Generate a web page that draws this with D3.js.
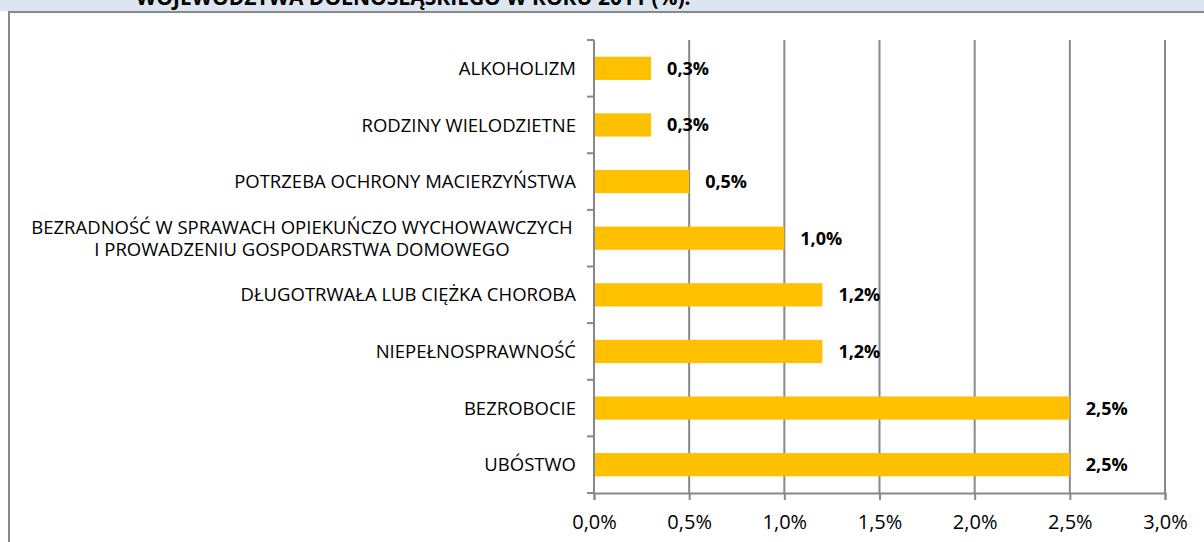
<!DOCTYPE html>
<html>
<head>
<meta charset="utf-8">
<script src="https://cdn.jsdelivr.net/npm/d3@7"></script>
<style>
  body { margin: 0; background: #fff; }
  svg { display: block; font-family: "Open Sans", sans-serif; }
</style>
</head>
<body>
<svg id="chart" width="1204" height="542"></svg>
<script>
const categories = [
  ['ALKOHOLIZM'],
  ['RODZINY WIELODZIETNE'],
  ['POTRZEBA OCHRONY MACIERZYŃSTWA'],
  ['BEZRADNOŚĆ W SPRAWACH OPIEKUŃCZO WYCHOWAWCZYCH', 'I PROWADZENIU GOSPODARSTWA DOMOWEGO'],
  ['DŁUGOTRWAŁA LUB CIĘŻKA CHOROBA'],
  ['NIEPEŁNOSPRAWNOŚĆ'],
  ['BEZROBOCIE'],
  ['UBÓSTWO']
]
const values = [0.3, 0.3, 0.5, 1.0, 1.2, 1.2, 2.5, 2.5]
const xTicks = [0, 0.5, 1, 1.5, 2, 2.5, 3]
const title = 'WOJEWÓDZTWA DOLNOŚLĄSKIEGO W ROKU 2011 (%).'

const fmt = v => v.toFixed(1).replace('.', ',') + '%'

const svg = d3.select('#chart')
const plotLeft = 594, plotRight = 1165, plotTop = 40, plotBottom = 493

// header strip, the title is cut by the page edge like in the source
svg.append('rect').attr('x', 0).attr('y', 0).attr('width', 1204).attr('height', 11).attr('fill', '#dce6f1')
svg.append('text')
  .attr('x', 136).attr('y', 5)
  .attr('font-weight', 'bold').attr('font-size', 21)
  .attr('fill', '#000')
  .text(title)

// chart frame
svg.append('rect')
  .attr('x', 9).attr('y', 12).attr('width', 1300).attr('height', 600)
  .attr('fill', '#fff').attr('stroke', '#898989').attr('stroke-width', 2)

const x = d3.scaleLinear().domain([0, 3]).range([plotLeft, plotRight])
const y = d3.scaleBand().domain(d3.range(categories.length)).range([plotTop, plotBottom]).paddingInner(0.59).paddingOuter(0.295)
const yb = d3.scaleBand().domain(d3.range(categories.length)).range([plotTop, plotBottom])

// vertical gridlines
svg.append('g')
  .selectAll('line')
  .data(xTicks.slice(1))
  .join('line')
  .attr('x1', d => x(d)).attr('x2', d => x(d))
  .attr('y1', plotTop).attr('y2', plotBottom)
  .attr('stroke', '#888').attr('stroke-width', 2)

// bars
svg.append('g')
  .selectAll('rect')
  .data(values)
  .join('rect')
  .attr('x', x(0))
  .attr('y', (d, i) => y(i))
  .attr('width', d => x(d) - x(0))
  .attr('height', y.bandwidth())
  .attr('fill', '#ffc000')

// value labels
svg.append('g')
  .selectAll('text')
  .data(values)
  .join('text')
  .attr('x', d => x(d) + 16)
  .attr('y', (d, i) => y(i) + y.bandwidth() / 2)
  .attr('dy', '0.36em')
  .attr('font-weight', 'bold').attr('font-size', 18)
  .text(fmt)

// left axis line + ticks
const yAxis = svg.append('g').attr('stroke', '#888').attr('stroke-width', 2)
yAxis.append('line').attr('x1', plotLeft).attr('x2', plotLeft).attr('y1', plotTop).attr('y2', plotBottom)
yAxis.selectAll('line.tick')
  .data(d3.range(categories.length + 1))
  .join('line')
  .attr('class', 'tick')
  .attr('x1', plotLeft - 7).attr('x2', plotLeft)
  .attr('y1', i => i < categories.length ? yb(i) : plotBottom)
  .attr('y2', i => i < categories.length ? yb(i) : plotBottom)

// bottom axis
const xAxis = svg.append('g')
  .attr('transform', `translate(0,${plotBottom})`)
  .call(d3.axisBottom(x).tickValues(xTicks).tickSize(7).tickFormat(fmt))
xAxis.select('.domain').attr('stroke', '#888').attr('stroke-width', 2)
xAxis.selectAll('.tick line').attr('stroke', '#888').attr('stroke-width', 2)
xAxis.selectAll('.tick text')
  .attr('font-family', '"Open Sans", sans-serif')
  .attr('font-size', 20).attr('fill', '#000').attr('dy', '0.71em').attr('y', 22)

// category labels
const labels = svg.append('g')
  .selectAll('text')
  .data(categories)
  .join('text')
  .attr('font-size', 18.5).attr('fill', '#000')
  .attr('text-anchor', 'end')
  .attr('transform', (d, i) => `translate(576,${yb(i) + yb.bandwidth() / 2})`)
labels.each(function (lines) {
  const t = d3.select(this)
  if (lines.length === 1) {
    t.append('tspan').attr('x', 0).attr('dy', '0.36em').text(lines[0])
  } else {
    t.attr('text-anchor', 'middle')
    const w = 548
    lines.forEach((l, k) => {
      t.append('tspan').attr('x', -w / 2).attr('y', (k - (lines.length - 1) / 2) * 22).attr('dy', '0.36em').text(l)
    })
  }
})
</script>
</body>
</html>
